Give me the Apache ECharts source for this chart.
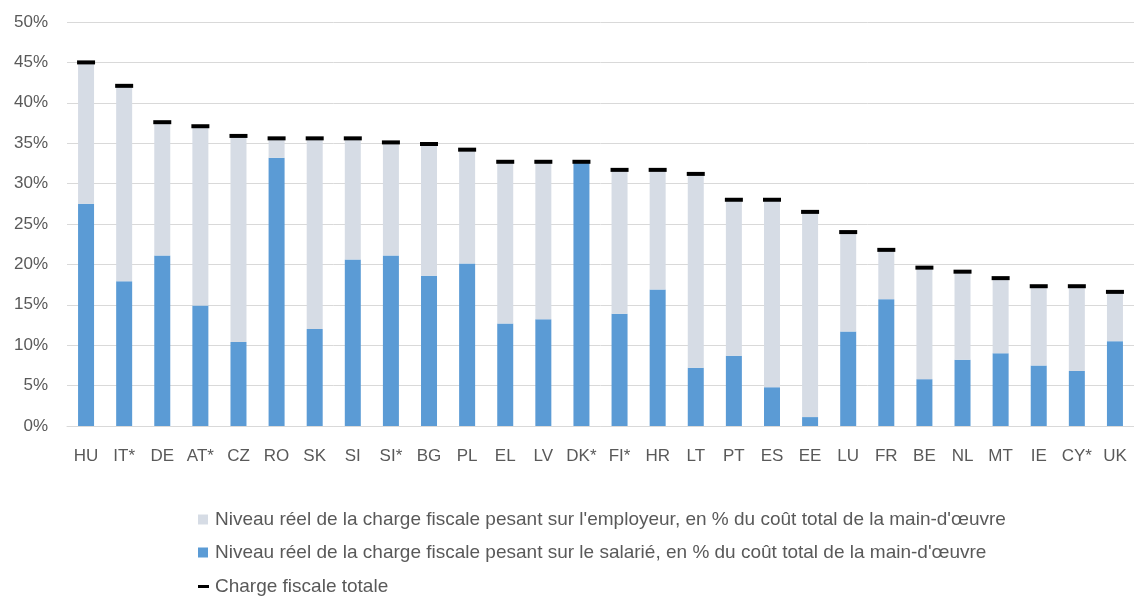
<!DOCTYPE html>
<html>
<head>
<meta charset="utf-8">
<script src="https://cdn.jsdelivr.net/npm/echarts@6/dist/echarts.min.js"></script>
<style>
  html, body { margin: 0; padding: 0; background: #fff; }
  #chart { width: 1134px; height: 598px; }
</style>
</head>
<body>
<div id="chart"></div>
<script>
// pays (ordre décroissant de la charge totale)
var countries = ['HU', 'IT*', 'DE', 'AT*', 'CZ', 'RO', 'SK', 'SI', 'SI*', 'BG', 'PL', 'EL', 'LV', 'DK*',
  'FI*', 'HR', 'LT', 'PT', 'ES', 'EE', 'LU', 'FR', 'BE', 'NL', 'MT', 'IE', 'CY*', 'UK'];

// charge pesant sur le salarié (%)
var employee = [27.5, 17.9, 21.1, 14.9, 10.4, 33.2, 12.0, 20.6, 21.1, 18.6, 20.1, 12.7, 13.2, 32.7,
  13.9, 16.9, 7.2, 8.7, 4.8, 1.1, 11.7, 15.7, 5.8, 8.2, 9.0, 7.5, 6.8, 10.5];

// charge pesant sur l'employeur (%)
var employer = [17.5, 24.2, 16.5, 22.2, 25.5, 2.4, 23.6, 15.0, 14.0, 16.3, 14.1, 20.0, 19.5, 0.0,
  17.8, 14.8, 24.0, 19.3, 23.2, 25.4, 12.3, 6.1, 13.8, 10.9, 9.3, 9.8, 10.5, 6.1];

// charge fiscale totale (%)
var total = [45.0, 42.1, 37.6, 37.1, 35.9, 35.6, 35.6, 35.6, 35.1, 34.9, 34.2, 32.7, 32.7, 32.7,
  31.7, 31.7, 31.2, 28.0, 28.0, 26.5, 24.0, 21.8, 19.6, 19.1, 18.3, 17.3, 17.3, 16.6];

var yTicks = [0, 5, 10, 15, 20, 25, 30, 35, 40, 45, 50];

var nameEmployer = "Niveau réel de la charge fiscale pesant sur l'employeur, en % du coût total de la main-d'œuvre";
var nameEmployee = "Niveau réel de la charge fiscale pesant sur le salarié, en % du coût total de la main-d'œuvre";
var nameTotal = 'Charge fiscale totale';

var font = '"Liberation Sans", sans-serif';
var legendText = { color: '#595959', fontSize: 19, lineHeight: 19, fontFamily: font, padding: [0, 0, 0, 2] };

var chart = echarts.init(document.getElementById('chart'));
chart.setOption({
  animation: false,
  grid: { left: 67, right: -11, top: 22, bottom: 172 },
  legend: [
    {  // barres
      orient: 'vertical',
      left: 198, top: 510, padding: 0,
      icon: 'rect',
      itemWidth: 10, itemHeight: 10, itemGap: 14,
      data: [nameEmployer, nameEmployee],
      textStyle: legendText
    },
    {  // marqueur total
      orient: 'vertical',
      left: 198, top: 577, padding: 0,
      icon: 'rect',
      itemWidth: 11, itemHeight: 3,
      data: [nameTotal],
      textStyle: { color: '#595959', fontSize: 19, lineHeight: 19, fontFamily: font, padding: [0, 0, 0, 1] }
    }
  ],
  xAxis: {
    type: 'category',
    data: countries,
    axisTick: { show: false },
    axisLine: { lineStyle: { color: '#d9d9d9', width: 1 } },
    axisLabel: { color: '#595959', fontSize: 17, fontFamily: font, margin: 22, interval: 0 }
  },
  yAxis: {
    type: 'value',
    min: yTicks[0], max: yTicks[yTicks.length - 1], interval: 5,
    axisLine: { show: false },
    axisTick: { show: false },
    splitLine: { lineStyle: { color: '#d9d9d9', width: 1 } },
    axisLabel: { color: '#595959', fontSize: 17, fontFamily: font, margin: 19,
      formatter: function (v) { return v + '%'; } }
  },
  series: [
    {
      name: nameEmployee,
      type: 'bar',
      stack: 'charge',
      barWidth: 16,
      itemStyle: { color: '#5b9bd5' },
      data: employee
    },
    {
      name: nameEmployer,
      type: 'bar',
      stack: 'charge',
      barWidth: 16,
      itemStyle: { color: '#d6dce5' },
      data: employer
    },
    {
      name: nameTotal,
      type: 'scatter',
      symbol: 'rect',
      symbolSize: [18, 4],
      itemStyle: { color: '#000', opacity: 1 },
      z: 5,
      data: total
    }
  ]
});
</script>
</body>
</html>
